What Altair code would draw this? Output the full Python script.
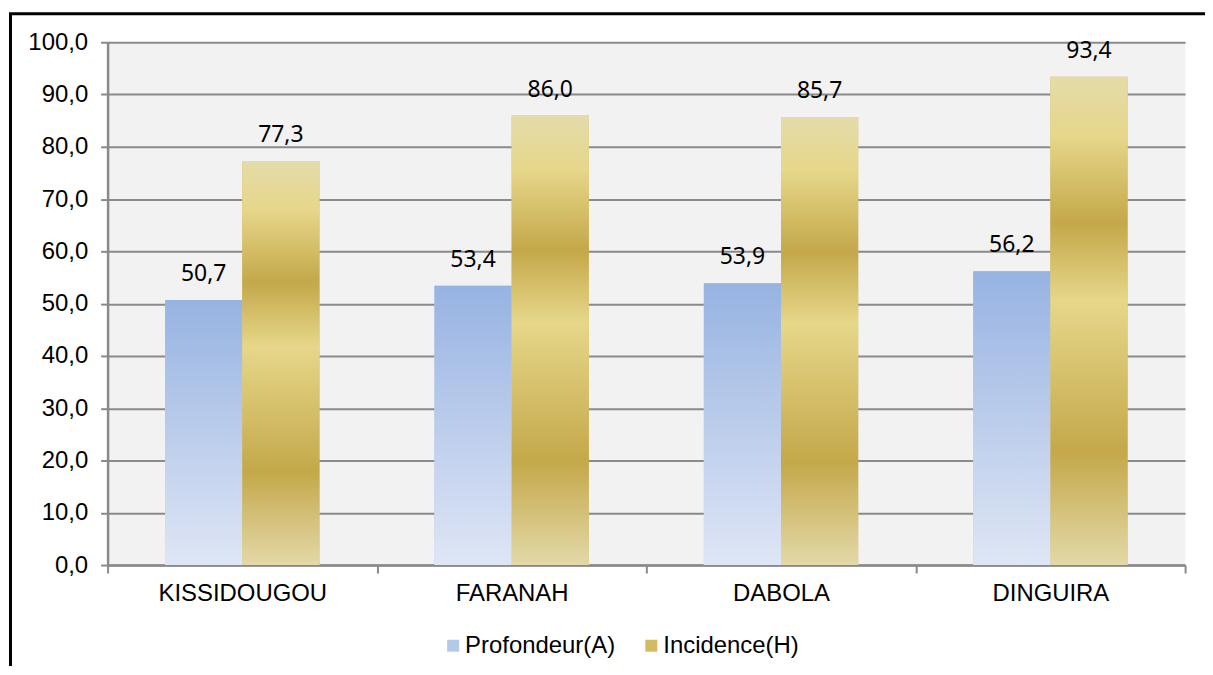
import altair as alt
import pandas as pd

categories = ["KISSIDOUGOU", "FARANAH", "DABOLA", "DINGUIRA"]
series_names = ["Profondeur(A)", "Incidence(H)"]
profondeur = [50.7, 53.4, 53.9, 56.2]
incidence = [77.3, 86.0, 85.7, 93.4]
y_ticks = [0, 10, 20, 30, 40, 50, 60, 70, 80, 90, 100]

rows = []
for c, a, h in zip(categories, profondeur, incidence):
    rows.append({"cat": c, "series": series_names[0], "value": a})
    rows.append({"cat": c, "series": series_names[1], "value": h})
df = pd.DataFrame(rows)

GRID = "#8a8a8a"

blue_grad = alt.Gradient(
    gradient="linear", x1=0, x2=0, y1=0, y2=1,
    stops=[alt.GradientStop(color="#97b3e2", offset=0),
           alt.GradientStop(color="#dfe6f5", offset=1)],
)
gold_grad = alt.Gradient(
    gradient="linear", x1=0, x2=0, y1=0, y2=1,
    stops=[alt.GradientStop(color="#e4dbaa", offset=0),
           alt.GradientStop(color="#e6d78a", offset=0.12),
           alt.GradientStop(color="#c4a84a", offset=0.30),
           alt.GradientStop(color="#e6d78a", offset=0.46),
           alt.GradientStop(color="#c4a84a", offset=0.77),
           alt.GradientStop(color="#e3d9a8", offset=1.0)],
)

x_enc = alt.X(
    "cat:N", sort=categories, title=None,
    scale=alt.Scale(paddingInner=0, paddingOuter=0),
    axis=alt.Axis(labelAngle=0, tickBand="extent", ticks=True, tickSize=8,
                  tickWidth=2, tickColor=GRID, domainColor=GRID, domainWidth=2.5,
                  labelFont="Liberation Sans", labelFontSize=24, labelColor="#000000",
                  labelPadding=9, grid=False),
)
xoff_enc = alt.XOffset("series:N", sort=series_names,
                       scale=alt.Scale(domain=series_names, paddingInner=0, paddingOuter=0.745))
y_enc = alt.Y(
    "value:Q", title=None,
    scale=alt.Scale(domain=[0, 100], nice=False),
    axis=alt.Axis(values=y_ticks, labelExpr="replace(format(datum.value, '.1f'), '.', ',')",
                  grid=True, gridColor=GRID, gridWidth=2, domainColor=GRID, domainWidth=2.5,
                  tickColor=GRID, tickSize=7, tickWidth=2,
                  labelFont="Liberation Sans", labelFontSize=24, labelColor="#000000",
                  labelPadding=13),
)

base = alt.Chart(df)

legend_bars = base.mark_bar().encode(
    x=x_enc, xOffset=xoff_enc, y=y_enc,
    color=alt.Color("series:N", sort=series_names,
                    scale=alt.Scale(domain=series_names, range=["#b4c8ea", "#d2bc62"]),
                    legend=alt.Legend(title=None, orient="none", direction="horizontal",
                                      legendX=335, legendY=594, symbolType="square",
                                      symbolSize=144, symbolStrokeWidth=0,
                                      labelFont="Liberation Sans", labelFontSize=24,
                                      labelColor="#000000", labelOffset=0,
                                      columnPadding=24, padding=0)),
)

blue_bars = base.transform_filter(
    alt.datum.series == series_names[0]
).mark_bar(color=blue_grad).encode(x=x_enc, xOffset=xoff_enc, y=y_enc)

gold_bars = base.transform_filter(
    alt.datum.series == series_names[1]
).mark_bar(color=gold_grad).encode(x=x_enc, xOffset=xoff_enc, y=y_enc)

labels = base.transform_calculate(
    label="replace(format(datum.value, '.1f'), '.', ',')"
).mark_text(font="Noto Sans", fontSize=23, color="#000000", baseline="alphabetic",
            dy=-19).encode(x=x_enc, xOffset=xoff_enc, y=y_enc, text="label:N")

frame_data = alt.Data(values=[{"k": 1}])
frame_left = alt.Chart(frame_data).mark_rule(color="#000000", strokeWidth=3).encode(
    x=alt.value(-97.5), y=alt.value(-28.5), y2=alt.value(800))
frame_top = alt.Chart(frame_data).mark_rule(color="#000000", strokeWidth=3).encode(
    x=alt.value(-99), x2=alt.value(1300), y=alt.value(-28.5))

chart = alt.layer(
    legend_bars, blue_bars, gold_bars, labels, frame_left, frame_top
).properties(
    width=1082, height=525,
    autosize=alt.AutoSizeParams(type="none"),
    padding={"left": 100, "top": 33, "right": 20, "bottom": 100},
    background="#ffffff",
).configure_view(fill="#f2f2f2", stroke=None)

chart.save("out.html", embed_options={"renderer": "svg", "actions": False})
